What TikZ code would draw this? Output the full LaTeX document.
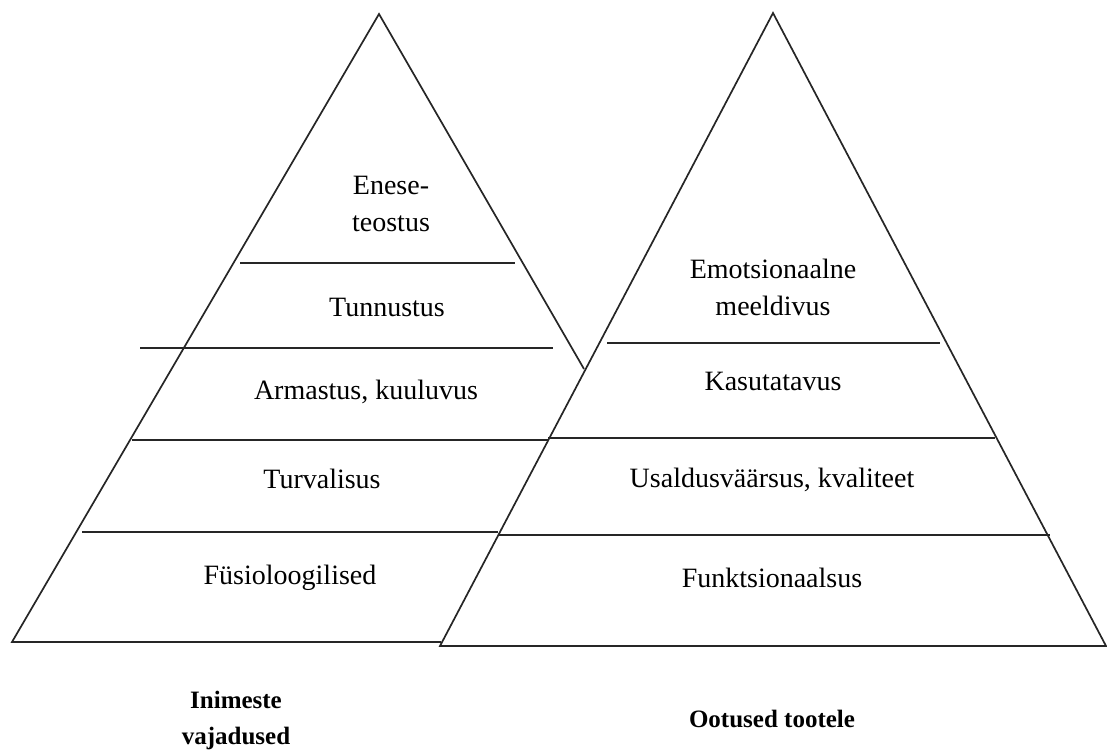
\documentclass[tikz,border=0pt]{standalone}
\usepackage{fontspec}
\setmainfont{Liberation Serif}
\usepackage{tikz}
\usetikzlibrary{calc}
\tikzset{edge/.style={line width=1.7pt, black!85},
level/.style={font=\fontsize{28}{37}\selectfont, align=center, inner sep=0pt},
caption/.style={font=\fontsize{25}{36}\selectfont\bfseries, align=center, inner sep=0pt}}

\begin{document}
\begin{tikzpicture}[x=1pt,y=-1pt]
 \useasboundingbox (0,0) rectangle (1107,754);

 %Left pyramid (needs)
 \draw[edge] (441,642) -- (12,642) -- (379,14) -- (584,369);
 \draw[edge] (240,263) -- (515,263);
 \draw[edge] (140,348) -- (553,348);
 \draw[edge] (132,440) -- (548,440);
 \draw[edge] (82,532) -- (498,532);

 \node[level] (selfreal) at (391,204) {Enese-\\teostus};
 \node[level] (esteem) at (387,307) {Tunnustus};
 \node[level] (love) at (366,392) {Armastus, kuuluvus};
 \node[level] (safety) at (322,479) {Turvalisus};
 \node[level] (physio) at (290,578) {Füsioloogilised};

 %Right pyramid (product expectations)
 \draw[edge] (440,646) -- (773,13) -- (1106,646) -- cycle;
 \draw[edge] (607,343) -- (940,343);
 \draw[edge] (548,438) -- (995,438);
 \draw[edge] (498,535) -- (1050,535);

 \node[level] (emotion) at (773,287) {Emotsionaalne\\meeldivus};
 \node[level] (usability) at (773,381) {Kasutatavus};
 \node[level] (quality) at (772,480) {Usaldusväärsus, kvaliteet};
 \node[level] (function) at (772,578) {Funktsionaalsus};

 %Captions
 \node[caption] (needslabel) at (236,720) {Inimeste\\vajadused};
 \node[caption] (productlabel) at (772,719) {Ootused tootele};

\end{tikzpicture}
\end{document}
